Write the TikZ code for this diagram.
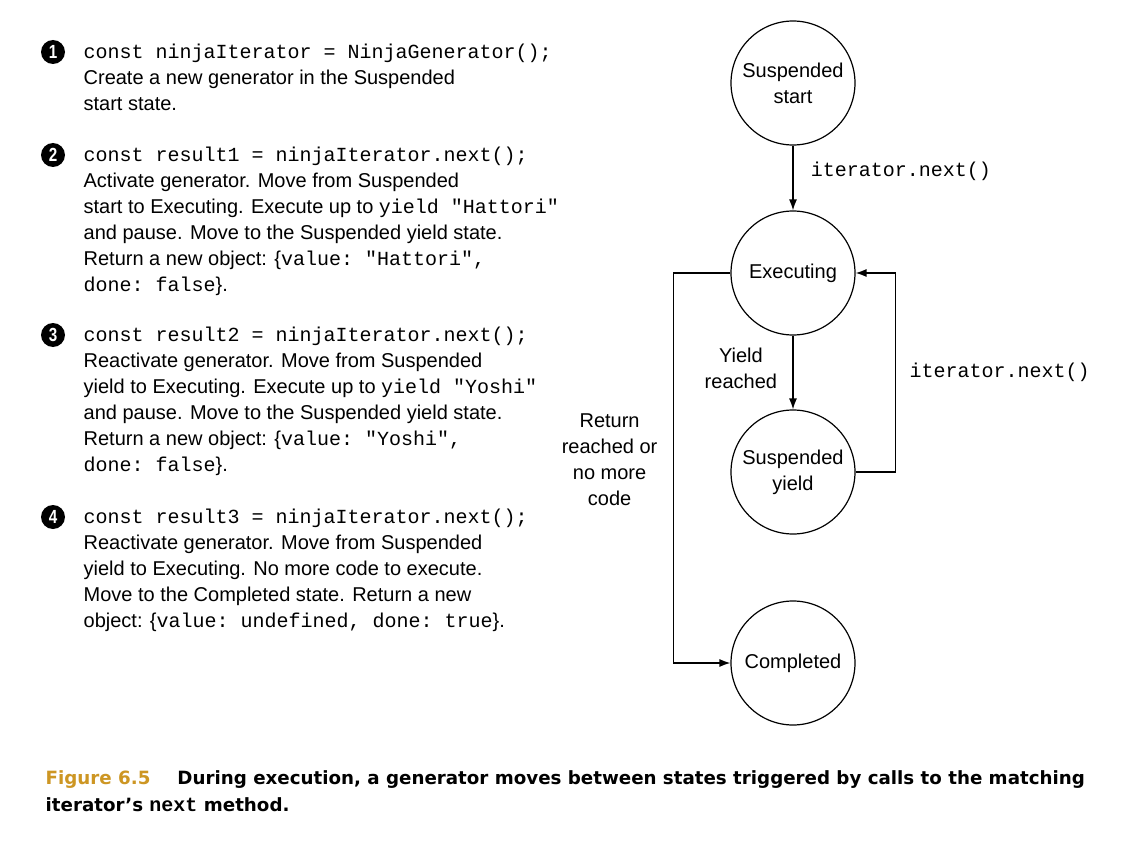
\documentclass[tikz,border=0pt]{standalone}
\usepackage{fontspec}
\setmainfont{Liberation Sans}
\setmonofont{Liberation Mono}
\newfontfamily\capfont{DejaVu Sans}
\newfontfamily\numfont[FakeStretch=0.8]{Liberation Sans}
\usepackage{tikz}
\usetikzlibrary{arrows.meta}
\usetikzlibrary{positioning}
\definecolor{figgold}{RGB}{205,150,35}
\newcommand{\cd}[1]{\texttt{#1}}

\begin{document}
\begin{tikzpicture}[x=1pt,y=-1pt,->,>={Latex[length=11pt,width=8pt]},auto,node distance=190pt,
                    line width=1.3pt,
                    state node/.style={circle,draw,line width=1.2pt,minimum size=124pt,inner sep=0pt,
                                       align=center,font=\fontsize{20}{26}\selectfont},
                    num node/.style={circle,fill=black,text=white,inner sep=0pt,minimum size=24pt,
                                     font=\numfont\bfseries\fontsize{19}{19}\selectfont},
                    item text/.style={anchor=north west,align=left,inner sep=0pt,
                                      font=\fontsize{20}{26}\selectfont},
                    label text/.style={align=center,font=\fontsize{20}{26}\selectfont}]

  \path[use as bounding box,fill=white] (0,0) rectangle (1128,856);

  % states
  \node[state node] (start) at (793,83) {Suspended\\start};
  \node[state node] (exec) [below of=start] {Executing};
  \node[state node] (yld) [below of=exec, node distance=199pt] {Suspended\\yield};
  \node[state node] (done) [below of=yld, node distance=191pt] {Completed};

  \path[every node/.style={label text}]
    (start) edge node[pos=0.4,right=14pt] {\cd{iterator.next()}} (exec)
    (exec)  edge node[pos=0.45,left=12pt] {Yield\\reached} (yld);

  \draw (yld.east) -- ++(40,0) |- node[pos=0.25,right=10pt,label text] {\cd{iterator.next()}} (exec.east);
  \draw (exec.west) -- ++(-57,0) |- node[pos=0.24,left=12pt,label text] {Return\\reached or\\no more\\code} (done.west);

  % steps on the left
  \node[num node] (n1) at (53,52) {1};
  \node[item text] (t1) at (83,39.8) {\strut\cd{const ninjaIterator = NinjaGenerator();}\\
    Create a new generator in the Suspended\\start state.};

  \node[num node] (n2) at (53,155) {2};
  \node[item text] (t2) at (83,142.8) {\strut\cd{const result1 = ninjaIterator.next();}\\
    Activate generator. Move from Suspended\\
    start to Executing. Execute up to \cd{yield "Hattori"}\\
    and pause. Move to the Suspended yield state.\\
    Return a new object: \{\cd{value: "Hattori",}\\
    \cd{done: false}\}.};

  \node[num node] (n3) at (53,335) {3};
  \node[item text] (t3) at (83,322.8) {\strut\cd{const result2 = ninjaIterator.next();}\\
    Reactivate generator. Move from Suspended\\
    yield to Executing. Execute up to \cd{yield "Yoshi"}\\
    and pause. Move to the Suspended yield state.\\
    Return a new object: \{\cd{value: "Yoshi",}\\
    \cd{done: false}\}.};

  \node[num node] (n4) at (53,517) {4};
  \node[item text] (t4) at (83,504.8) {\strut\cd{const result3 = ninjaIterator.next();}\\
    Reactivate generator. Move from Suspended\\
    yield to Executing. No more code to execute.\\
    Move to the Completed state. Return a new\\
    object: \{\cd{value: undefined, done: true}\}.};

  % caption
  \node[anchor=north west,align=left,inner sep=0pt,
        font=\capfont\bfseries\fontsize{18.25}{27}\selectfont] (cap) at (45,765.1)
    {\strut\textcolor{figgold}{Figure 6.5}\hspace{27pt}During execution, a generator moves between states triggered by calls to the matching\\
     iterator’s {\fontsize{20}{27}\selectfont\ttfamily\bfseries next} method.};
\end{tikzpicture}
\end{document}
